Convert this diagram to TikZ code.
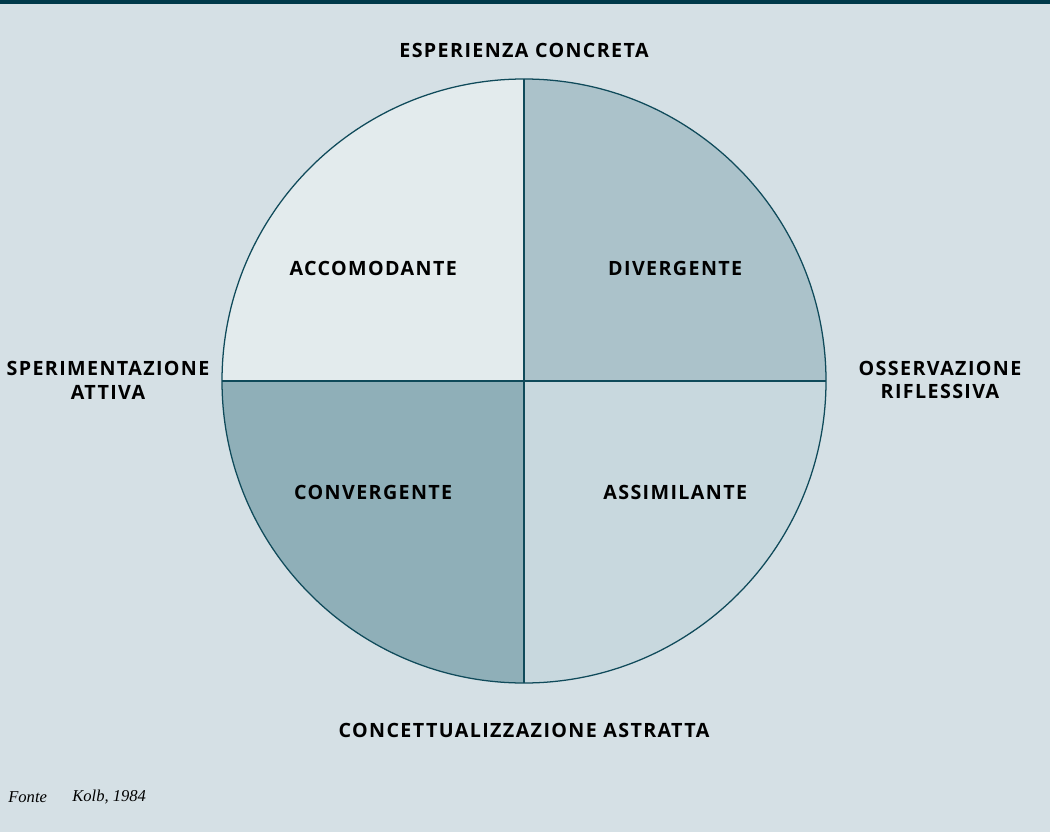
\documentclass[tikz,border=0pt]{standalone}
\usepackage{fontspec}
\usetikzlibrary{calc}
\setmainfont{Liberation Serif}
\newfontfamily\lblfont[LetterSpace=7]{Open Sans}
\definecolor{bgblue}{HTML}{D5E0E5}
\definecolor{barblue}{HTML}{003A4A}
\definecolor{rimblue}{HTML}{0F4A5A}
\definecolor{qone}{HTML}{E3EBED}
\definecolor{qtwo}{HTML}{ABC2CA}
\definecolor{qthree}{HTML}{8FAFB8}
\definecolor{qfour}{HTML}{C8D8DE}
\begin{document}
\begin{tikzpicture}[x=1cm,y=1cm,
		lbl/.style={font=\lblfont\fontsize{14}{17}\selectfont\bfseries,align=center,inner sep=0pt},
		src/.style={font=\itshape\fontsize{11.8}{13}\selectfont,anchor=west,inner sep=0pt}]
			\def\r{7.55}
			\fill[bgblue] (0,0) rectangle (26.25,20.8);
			\fill[barblue] (0,20.7) rectangle (26.25,20.8);
			\coordinate (c) at (13.1,11.275);
			% quadrants
			\fill[qone] (c) -- ++(180:\r) arc (180:90:\r) -- cycle;
			\fill[qtwo] (c) -- ++(90:\r) arc (90:0:\r) -- cycle;
			\fill[qthree] (c) -- ++(270:\r) arc (270:180:\r) -- cycle;
			\fill[qfour] (c) -- ++(0:\r) arc (0:-90:\r) -- cycle;
			\draw[rimblue,line width=0.9pt] (c) circle (\r);
			\draw[rimblue,line width=0.9pt] ($(c)+(-\r,0)$) -- ($(c)+(\r,0)$)
				($(c)+(0,\r)$) -- ($(c)+(0,-\r)$);
			\node[lbl] (ec) at (13.1,19.55) {ESPERIENZA CONCRETA};
			\node[lbl] (ca) at (13.1,2.53) {CONCETTUALIZZAZIONE ASTRATTA};
			\node[lbl] (sa) at (2.7,11.3) {SPERIMENTAZIONE\\ATTIVA};
			\node[lbl] (or) at (23.5,11.3) {OSSERVAZIONE\\RIFLESSIVA};
			\node[lbl] (acc) at (9.33,14.1) {ACCOMODANTE};
			\node[lbl] (div) at (16.88,14.1) {DIVERGENTE};
			\node[lbl] (con) at (9.33,8.48) {CONVERGENTE};
			\node[lbl] (ass) at (16.88,8.48) {ASSIMILANTE};
			\node[src] (fonte) at (0.2,0.88) {Fonte};
			\node[src] (kolb) at (1.8,0.88) {Kolb, 1984};
		\end{tikzpicture}
\end{document}
